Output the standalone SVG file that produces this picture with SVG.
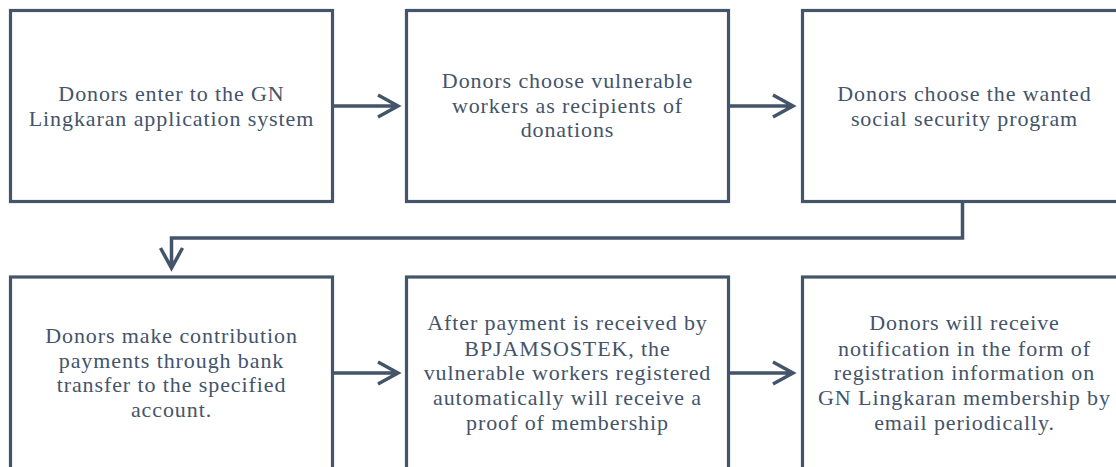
<svg xmlns="http://www.w3.org/2000/svg" width="1116" height="467" viewBox="0 0 1116 467">
<style>
.box{fill:#ffffff;stroke:#44546A;stroke-width:3.2}
.t{font-family:"Liberation Serif","Times New Roman",serif;font-size:22px;fill:#44546A;text-anchor:middle;letter-spacing:0.9px}
.c{fill:none;stroke:#44546A;stroke-width:3.5;stroke-linejoin:miter}
</style>
<rect width="1116" height="467" fill="#ffffff"/>
<g id="node1">
<rect class="box" x="10.5" y="10.5" width="322" height="191"/>
<text class="t" x="171.5" y="100.5">Donors enter to the GN</text>
<text class="t" x="171.5" y="126">Lingkaran application system</text>
</g>
<g id="node2">
<rect class="box" x="406.5" y="10.5" width="322" height="191"/>
<text class="t" x="567.5" y="88">Donors choose vulnerable</text>
<text class="t" x="567.5" y="113">workers as recipients of</text>
<text class="t" x="567.5" y="137">donations</text>
</g>
<g id="node3">
<rect class="box" x="802.5" y="10.5" width="330" height="191"/>
<text class="t" x="964.5" y="100.5">Donors choose the wanted</text>
<text class="t" x="964.5" y="126">social security program</text>
</g>
<g id="node4">
<rect class="box" x="10.5" y="277" width="322" height="200"/>
<text class="t" x="171.5" y="342.5">Donors make contribution</text>
<text class="t" x="171.5" y="368">payments through bank</text>
<text class="t" x="171.5" y="392">transfer to the specified</text>
<text class="t" x="171.5" y="417">account.</text>
</g>
<g id="node5">
<rect class="box" x="406.5" y="277" width="322" height="200"/>
<text class="t" x="567.5" y="330">After payment is received by</text>
<text class="t" x="567.5" y="355.5">BPJAMSOSTEK, the</text>
<text class="t" x="567.5" y="380">vulnerable workers registered</text>
<text class="t" x="567.5" y="405">automatically will receive a</text>
<text class="t" x="567.5" y="430">proof of membership</text>
</g>
<g id="node6">
<rect class="box" x="802.5" y="277" width="330" height="200"/>
<text class="t" x="964.5" y="330">Donors will receive</text>
<text class="t" x="964.5" y="355.5">notification in the form of</text>
<text class="t" x="964.5" y="380">registration information on</text>
<text class="t" x="964.5" y="405">GN Lingkaran membership by</text>
<text class="t" x="964.5" y="430">email periodically.</text>
</g>
<g id="connectors">
<path class="c" d="M333 106H397M378 95L398 106L378 117"/>
<path class="c" d="M729 106H792M773 95L793 106L773 117"/>
<path class="c" d="M962.5 202V238H171.5V266M160.5 248L171.5 268L182.5 248"/>
<path class="c" d="M333 373H397M378 362L398 373L378 384"/>
<path class="c" d="M729 373H792M773 362L793 373L773 384"/>
</g>
</svg>
